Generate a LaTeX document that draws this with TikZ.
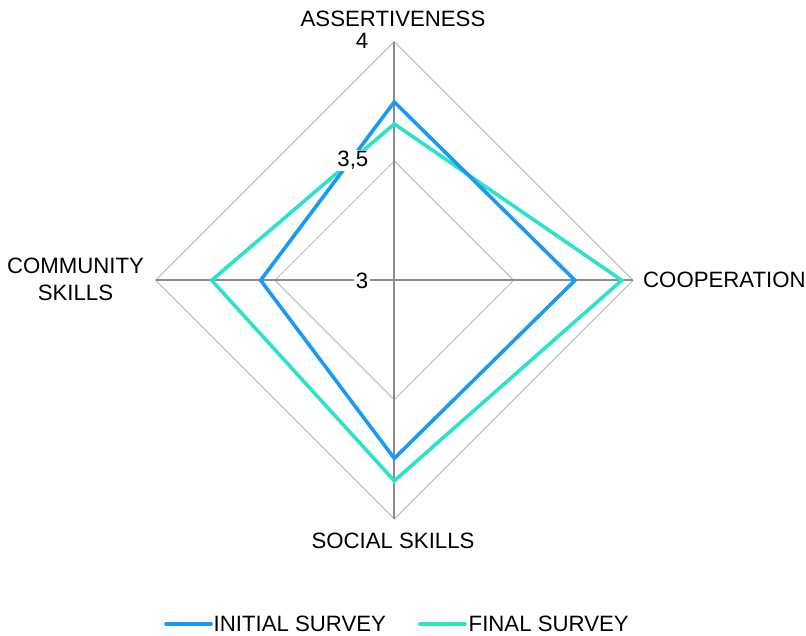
\documentclass[tikz,border=0pt]{standalone}
\usepackage{fontspec}
\setmainfont{Liberation Sans}
\usetikzlibrary{calc}
\definecolor{initc}{HTML}{1A9AF5}
\definecolor{finc}{HTML}{2BE3C8}
\definecolor{spokec}{HTML}{8C8C8C}
\definecolor{gridc}{HTML}{BDBDBD}
\tikzset{
  lbl/.style={font=\fontsize{22.2}{25}\selectfont, text=black, inner sep=0pt},
  tick/.style={font=\fontsize{22.2}{25}\selectfont, fill=white, inner sep=1.5pt, anchor=east},
  grid/.style={draw=gridc, line width=1pt},
  spoke/.style={draw=spokec, line width=1.8pt},
  initline/.style={draw=initc, line width=3.6pt, line join=miter},
  finline/.style={draw=finc, line width=3.6pt, line join=miter},
  legline/.style={line width=3.6pt, line cap=round}
}
\begin{document}
\begin{tikzpicture}[x=1pt,y=-1pt]
\useasboundingbox (0,0) rectangle (806,635);
\def\R{238.7}
\coordinate (c) at (394.3,280.3);
% axis vertices
\coordinate (t4) at ($(c)+(0,-\R)$);
\coordinate (r4) at ($(c)+(\R,0)$);
\coordinate (b4) at ($(c)+(0,\R)$);
\coordinate (l4) at ($(c)+(-\R,0)$);
\coordinate (t35) at ($(c)+(0,-0.5*\R)$);
\coordinate (r35) at ($(c)+(0.5*\R,0)$);
\coordinate (b35) at ($(c)+(0,0.5*\R)$);
\coordinate (l35) at ($(c)+(-0.5*\R,0)$);
% grid
\draw[grid] (t4) -- (r4) -- (b4) -- (l4) -- cycle;
\draw[grid] (t35) -- (r35) -- (b35) -- (l35) -- cycle;
% spokes
\draw[spoke] (c) -- (t4);
\draw[spoke] (c) -- (r4);
\draw[spoke] (c) -- (b4);
\draw[spoke] (c) -- (l4);
% data
\coordinate (it) at ($(c)+(0,-0.747*\R)$);
\coordinate (ir) at ($(c)+(0.757*\R,0)$);
\coordinate (ib) at ($(c)+(0,0.746*\R)$);
\coordinate (il) at ($(c)+(-0.560*\R,0)$);
\coordinate (ft) at ($(c)+(0,-0.655*\R)$);
\coordinate (fr) at ($(c)+(0.953*\R,0)$);
\coordinate (fb) at ($(c)+(0,0.840*\R)$);
\coordinate (fl) at ($(c)+(-0.765*\R,0)$);
\draw[finline] (ft) -- (fr) -- (fb) -- (fl) -- cycle;
\draw[initline] (it) -- (ir) -- (ib) -- (il) -- cycle;
% tick labels
\node[tick] (v4) at (370,40.5) {4};
\node[tick] (v35) at (370,160.5) {3,5};
\node[tick] (v3) at (370,281) {3};
% axis labels
\node[lbl] (ass) at (393,18.5) {ASSERTIVENESS};
\node[lbl, anchor=west] (coop) at (643,280.3) {COOPERATION};
\node[lbl] (soc) at (393,541) {SOCIAL SKILLS};
\node[lbl, align=center, font=\fontsize{22.2}{27}\selectfont] (com) at (75.5,279) {COMMUNITY\\SKILLS};
% legend
\coordinate (la1) at (166,624);
\coordinate (la2) at (211,624);
\coordinate (lb1) at (420,624);
\coordinate (lb2) at (465,624);
\draw[legline, initc] (la1) -- (la2);
\draw[legline, finc] (lb1) -- (lb2);
\node[lbl, anchor=west] (leg1) at (213.5,624) {INITIAL SURVEY};
\node[lbl, anchor=west] (leg2) at (468.5,624) {FINAL SURVEY};
\end{tikzpicture}
\end{document}
